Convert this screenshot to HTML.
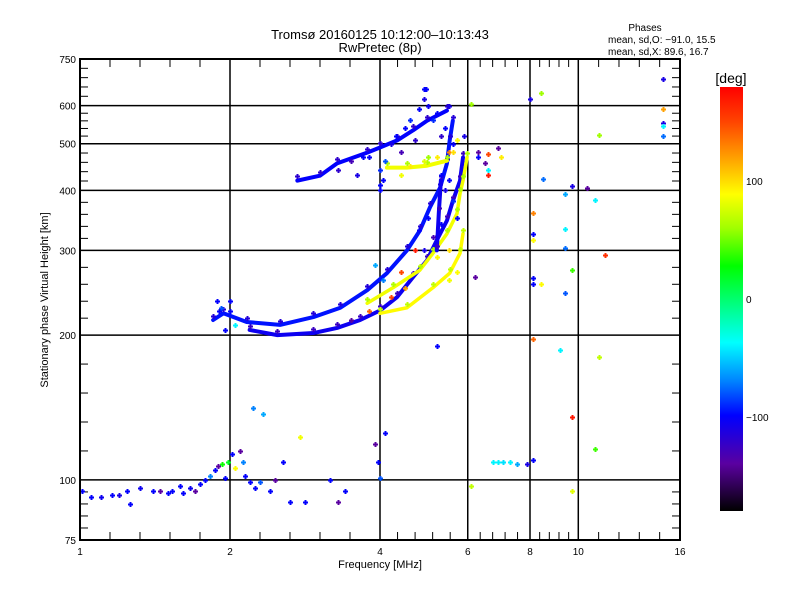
<!DOCTYPE html>
<html><head><meta charset="utf-8"><style>
body{margin:0;background:#fff;}
svg{display:block;font-family:"Liberation Sans",sans-serif;}
</style></head><body>
<svg id="chart" width="800" height="600" viewBox="0 0 800 600" xmlns="http://www.w3.org/2000/svg">
<rect width="800" height="600" fill="#fff"/>
<text x="380" y="39" font-size="13" text-anchor="middle">Tromsø 20160125 10:12:00–10:13:43</text>
<text x="380" y="52" font-size="13" text-anchor="middle">RwPretec (8p)</text>
<text x="645" y="31" font-size="10" text-anchor="middle">Phases</text>
<text x="608" y="43" font-size="10">mean, sd,O: −91.0, 15.5</text>
<text x="608" y="55" font-size="10">mean, sd,X:  89.6, 16.7</text>
<text transform="translate(48,300) rotate(-90)" font-size="11" text-anchor="middle">Stationary phase Virtual Height [km]</text>
<text x="380" y="568" font-size="11" text-anchor="middle">Frequency [MHz]</text>
<g id="grid"></g>
<g id="marks"></g>
<rect x="80" y="59" width="600" height="481" fill="none" stroke="#000" stroke-width="2"/>
<g id="cbar"></g>
</svg>
<script>
const xTicks=[1,2,4,6,8,10,16];
const yTicks=[75,100,200,300,400,500,600,750];
const yGrid=[100,200,300,400,500,600];
const cbTicks=[100,0,-100];
// traces: freq (MHz), virtual height (km), phase (deg)
const t1F=[2.19,2.49,2.94,3.28,3.65,4.0,4.33,4.66,4.97,5.2,5.45,5.6,5.79,5.87];
const t1H=[205,200,202,207,215,225,240,264,286,315,346,380,419,468];
const t1P=-105;
const t2F=[1.85,1.94,2.16,2.52,2.94,3.33,3.77,4.13,4.53,4.81,5.04,5.28,5.45,5.52,5.6];
const t2H=[215,222,213,210,218,228,248,269,300,330,369,405,455,508,558];
const t2P=-95;
const t3F=[4.0,4.53,5.11,5.52,5.79,5.87];
const t3H=[222,228,251,269,296,325];
const t3P=90;
const t4F=[3.77,4.25,4.81,5.11,5.45,5.71,5.79,5.87,5.98];
const t4H=[233,251,273,296,325,358,394,419,468];
const t4P=85;
const t5F=[2.73,3.03,3.28,3.77,4.0,4.33,4.66,4.97,5.45];
const t5H=[419,429,455,479,491,508,533,558,586];
const t5P=-100;
const t6F=[4.13,4.53,4.97,5.45];
const t6H=[446,446,450,461];
const t6P=85;
const t7F=[5.2,5.25,5.3];
const t7H=[300,360,420];
const t7P=-105;
// scattered echoes
const sF=[1.01,1.05,1.1,1.16,1.2,1.24,1.26,1.32,1.4,1.45,1.5,1.53,1.59,1.61,1.66,1.7,1.74,1.78,1.82,1.87,1.89,1.93,1.95,1.98,2.02,2.05,2.09,2.12,2.14,2.19,2.24,2.3,2.41,2.46,2.55,2.64,2.83,3.17,3.29,3.4,3.91,3.96,4.0,2.22,2.33,2.76,4.09,
 8.0,8.4,6.1,14.8,14.8,14.8,14.8,14.8,11.0,6.9,6.6,7.0,6.3,6.6,6.6,6.5,8.5,9.7,10.4,9.4,10.8,8.1,8.1,8.1,9.4,9.4,11.3,6.2,8.1,8.1,8.4,9.7,9.4,8.1,9.2,11.0,9.7,10.8,8.1,6.75,6.9,7.05,7.3,7.55,7.9,6.1,9.7,
 1.88,1.92,2.0,4.0,4.4,4.9,5.9,6.3,4.7,5.2,3.9,3.8,4.05,
 4.0,4.05,4.1,4.2,4.3,4.4,4.5,4.6,4.7,4.8,4.9,4.95,5.0,5.1,5.2,5.3,5.4,5.5,5.6,5.3,5.4,5.5,5.6,5.7,4.9,5.0,5.2,5.5,5.6,5.7,4.6,4.4,3.5,3.3,3.6,3.7,4.0,4.8,4.9,5.0,5.1,5.3,5.2,5.5,5.5,5.7,4.2,4.5,3.8,3.5,2.0,1.9,1.95,2.05];
const sH=[95,92,92,93,93,95,89,96,95,95,94,95,97,94,96,95,98,100,102,105,107,108,101,109,113,106,115,109,102,99,96,99,95,100,109,90,90,100,90,95,119,109,101,141,137,123,125,
 620,637,605,680,590,553,545,520,522,490,475,470,470,430,440,455,423,408,405,393,381,358,325,315,332,303,293,264,263,256,255,273,245,196,186,180,135,116,110,109,109,109,109,108,108,97,95,
 236,228,225,410,270,650,520,480,300,190,280,470,260,
 440,420,460,500,520,480,540,560,510,590,620,650,600,560,580,520,540,600,500,430,400,420,380,350,460,470,470,480,480,510,450,430,460,440,430,470,400,330,300,350,320,340,290,300,260,270,240,250,225,215,235,225,205,210];
const sP=[-100,-100,-105,-100,-110,-100,-100,-105,-100,-140,-100,-100,-100,-100,-105,-140,-100,-100,-70,-100,-140,30,-100,20,-100,90,-140,-70,-100,-100,-100,-80,-100,-140,-100,-100,-100,-100,-140,-100,-140,-100,-80,-70,-60,85,-100,
 -110,60,60,-110,120,-110,-40,-75,60,-140,150,95,-100,170,-40,-140,-75,-110,-140,-60,-40,130,-100,90,-40,-75,160,-140,-100,-100,90,40,-80,140,-40,70,170,40,-100,-40,-40,-45,-40,-60,-110,70,80,
 -100,-80,-100,-100,150,-100,-110,-140,170,-100,-60,-100,-70,
 -90,-100,-80,-110,-100,-130,-100,-90,-120,-100,-110,-100,-105,-90,-100,-120,-100,-110,-100,-100,-110,-100,-90,-100,80,60,95,130,100,90,95,85,-130,-120,-110,-100,-100,-100,-110,-100,-130,-100,90,100,85,90,150,120,140,-140,-100,-100,-100,-40];

const X0=80,X1=680,Y0=59,Y1=540;
const lx0=Math.log(1),lx1=Math.log(16),ly0=Math.log(75),ly1=Math.log(750);
function xs(f){return X0+(Math.log(f)-lx0)/(lx1-lx0)*(X1-X0);}
function ys(h){return Y1-(Math.log(h)-ly0)/(ly1-ly0)*(Y1-Y0);}
const stops=[[-180,0,0,0],[-140,90,0,160],[-99,0,0,255],[-70,0,130,255],[-37,0,255,255],[28,0,255,0],[60,160,255,0],[89,255,255,0],[120,255,160,0],[150,255,70,0],[180,255,0,0]];
function col(p){for(let i=0;i<stops.length-1;i++){const a=stops[i],b=stops[i+1];if(p<=b[0]){const t=Math.max(0,(p-a[0])/(b[0]-a[0]));return `rgb(${Math.round(a[1]+t*(b[1]-a[1]))},${Math.round(a[2]+t*(b[2]-a[2]))},${Math.round(a[3]+t*(b[3]-a[3]))})`;}}return 'rgb(255,0,0)';}
const NS='http://www.w3.org/2000/svg';
function mk(tag,attrs,parent){const e=document.createElementNS(NS,tag);for(const k in attrs)e.setAttribute(k,attrs[k]);parent.appendChild(e);return e;}
const grid=document.getElementById('grid'),marks=document.getElementById('marks'),cbar=document.getElementById('cbar');
xTicks.forEach((f,i)=>{const x=xs(f);
 if(i>0&&i<xTicks.length-1){const l=mk('line',{x1:x,y1:Y0,x2:x,y2:Y1,stroke:'#000','stroke-width':1.5},grid);
 
 }
 const t=mk('text',{x:x,y:Y1+15,'font-size':10,'text-anchor':'middle'},grid);t.textContent=f;
 
 
 if(i<xTicks.length-1){const x2=xs(xTicks[i+1]);for(let k=1;k<5;k++){const xm=x+(x2-x)*k/5;
  const a=mk('line',{x1:xm,y1:Y1,x2:xm,y2:Y1-8,stroke:'#000','stroke-width':1},grid);
  
  
  const b=mk('line',{x1:xm,y1:Y0,x2:xm,y2:Y0+8,stroke:'#000','stroke-width':1},grid);
  
  }}
});
yGrid.forEach(h=>{const y=ys(h);const l=mk('line',{x1:X0,y1:y,x2:X1,y2:y,stroke:'#000','stroke-width':1.5},grid);
 
 });
yTicks.forEach((h,i)=>{const y=ys(h);const t=mk('text',{x:X0-4,y:y+4,'font-size':10,'text-anchor':'end'},grid);t.textContent=h;
 
 
 if(i<yTicks.length-1){const y2=ys(yTicks[i+1]);for(let k=1;k<5;k++){const ym=y+(y2-y)*k/5;
  const a=mk('line',{x1:X0,y1:ym,x2:X0+8,y2:ym,stroke:'#000','stroke-width':1},grid);
  
  
  const b=mk('line',{x1:X1,y1:ym,x2:X1-8,y2:ym,stroke:'#000','stroke-width':1},grid);
  
  }}
});
function cross(f,h,p,name){const x=Math.round(xs(f)),y=Math.round(ys(h));const g=mk('g',{fill:col(p)},marks);
 
 
 mk('rect',{x:x-2,y:y-0.5,width:5,height:2},g);mk('rect',{x:x-0.5,y:y-2,width:2,height:5},g);}
function trace(F,H,P,name,w){const pts=F.map((f,i)=>xs(f)+','+ys(H[i])).join(' ');
 const pl=mk('polyline',{points:pts,fill:'none',stroke:col(P),'stroke-width':w,'stroke-linejoin':'round','stroke-linecap':'round'},marks);
 
 
 F.forEach((f,i)=>cross(f,H[i]*1.02,P-20,name+'-echo'));}
trace(t1F,t1H,t1P,'o-trace-lower',4);
trace(t2F,t2H,t2P,'o-trace-upper',4);
trace(t3F,t3H,t3P,'x-trace-lower',3.5);
trace(t4F,t4H,t4P,'x-trace-upper',3.5);
trace(t5F,t5H,t5P,'f2-upper-trace',4);
trace(t6F,t6H,t6P,'x-band-trace',4);
trace(t7F,t7H,t7P,'o-vertical-cluster',4);
sF.forEach((f,i)=>cross(f,sH[i],sP[i],'scatter-echo'));
const cbx=720,cby0=87,cby1=511;
const defs=mk('defs',{},cbar);const lg=mk('linearGradient',{id:'cg',x1:0,y1:1,x2:0,y2:0},defs);
stops.forEach(s=>mk('stop',{offset:((s[0]+180)/360),'stop-color':col(s[0])},lg));
const cr=mk('rect',{x:cbx,y:cby0,width:23,height:cby1-cby0,fill:'url(#cg)'},cbar);


const ct=mk('text',{x:cbx+11,y:cby0-4,'font-size':14,'text-anchor':'middle'},cbar);ct.textContent='[deg]';


cbTicks.forEach(v=>{const y=cby1-(v+180)/360*(cby1-cby0);const t=mk('text',{x:cbx+26,y:y+4,'font-size':10},cbar);t.textContent=v===-100?'−100':v;
 
 });
</script>
</body></html>
